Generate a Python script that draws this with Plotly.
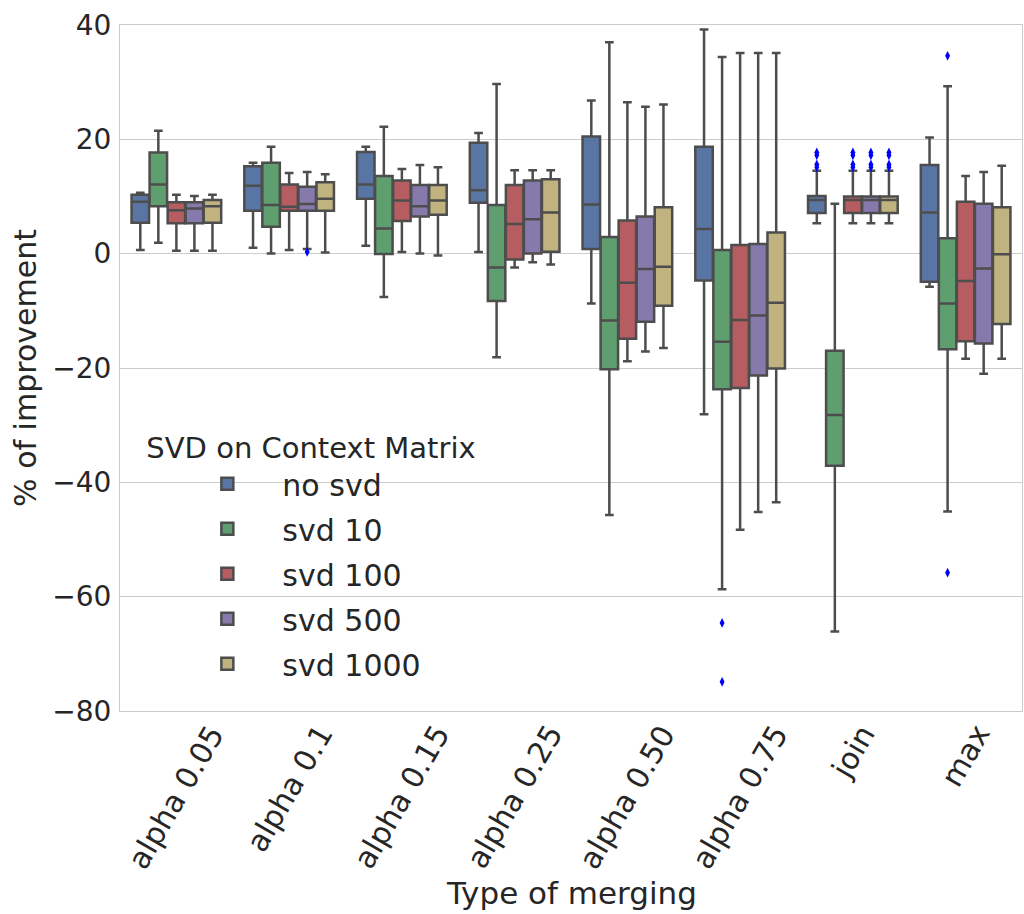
import plotly.graph_objects as go

categories = ["alpha 0.05", "alpha 0.1", "alpha 0.15", "alpha 0.25",
              "alpha 0.50", "alpha 0.75", "join", "max"]
series_names = ["no svd", "svd 10", "svd 100", "svd 500", "svd 1000"]
series_colors = ["#5975A4", "#5F9E6E", "#B55D60", "#857AAB", "#C1B37F"]

no_svd_low = [0.65, 1.05, 1.4, 0.3, -8.7, -28.1, 5.3, -5.8]
no_svd_q1 = [5.4, 7.5, 9.6, 8.9, 0.8, -4.7, 7.1, -4.9]
no_svd_med = [9.1, 11.9, 12.1, 11.1, 8.6, 4.3, 9.4, 7.2]
no_svd_q3 = [10.3, 15.3, 17.8, 19.4, 20.5, 18.7, 10.1, 15.5]
no_svd_high = [10.67, 15.9, 18.7, 21.1, 26.8, 39.2, 14.5, 20.3]

svd10_low = [1.9, 0.05, -7.6, -18.1, -45.7, -58.7, -66.1, -45.1]
svd10_q1 = [8.3, 4.7, -0.05, -8.3, -20.2, -23.7, -37.1, -16.7]
svd10_med = [12.1, 8.5, 4.4, -2.4, -11.7, -15.4, -28.2, -8.7]
svd10_q3 = [17.7, 15.9, 13.6, 8.5, 2.9, 0.65, -17.0, 2.7]
svd10_high = [21.5, 18.7, 22.2, 29.7, 37.0, 34.4, 8.75, 29.3]

svd100_low = [0.5, 0.65, 0.3, -2.4, -18.8, -48.3, 5.3, -18.4]
svd100_q1 = [5.3, 7.5, 5.7, -1.0, -14.9, -23.5, 7.1, -15.3]
svd100_med = [7.6, 8.2, 9.3, 5.2, -5.1, -11.6, 9.4, -4.8]
svd100_q3 = [9.0, 12.1, 12.8, 12.0, 5.8, 1.5, 10.0, 9.1]
svd100_high = [10.3, 14.1, 14.8, 14.6, 26.5, 35.1, 14.5, 13.6]

svd500_low = [0.5, 0.8, 0.05, -1.5, -17.1, -45.2, 5.3, -21.0]
svd500_q1 = [5.3, 7.5, 6.5, 0.05, -11.9, -21.3, 7.1, -15.7]
svd500_med = [7.9, 8.7, 8.3, 6.0, -2.7, -10.8, 9.4, -2.6]
svd500_q3 = [9.0, 11.7, 12.0, 12.8, 6.5, 1.7, 10.0, 8.75]
svd500_high = [10.1, 14.3, 15.5, 14.6, 25.7, 35.1, 14.5, 14.3]

svd1000_low = [0.5, 0.2, -0.3, -1.9, -16.5, -43.5, 5.3, -18.4]
svd1000_q1 = [5.4, 7.5, 6.8, 0.35, -9.1, -20.1, 7.1, -12.3]
svd1000_med = [8.3, 9.6, 9.3, 7.2, -2.3, -8.6, 9.4, -0.1]
svd1000_q3 = [9.4, 12.5, 12.0, 13.0, 8.1, 3.7, 10.0, 8.1]
svd1000_high = [10.3, 13.9, 15.1, 14.6, 26.1, 35.1, 14.5, 15.4]

# outliers: category index, series index, value
outlier_cat = [1, 5, 5, 6, 6, 6, 6, 6, 6, 6, 6, 6, 6, 6, 6, 6, 6, 6, 6, 7, 7]
outlier_series = [3, 1, 1, 0, 0, 0, 0, 2, 2, 2, 2, 3, 3, 3, 3, 4, 4, 4, 4, 1, 1]
outlier_val = [0.3, -64.6, -74.9,
               17.7, 17.2, 15.6, 15.1,
               17.7, 17.2, 15.6, 15.1,
               17.7, 17.2, 15.6, 15.1,
               17.7, 17.2, 15.6, 15.1,
               34.6, -55.8]

stats = [
    (no_svd_low, no_svd_q1, no_svd_med, no_svd_q3, no_svd_high),
    (svd10_low, svd10_q1, svd10_med, svd10_q3, svd10_high),
    (svd100_low, svd100_q1, svd100_med, svd100_q3, svd100_high),
    (svd500_low, svd500_q1, svd500_med, svd500_q3, svd500_high),
    (svd1000_low, svd1000_q1, svd1000_med, svd1000_q3, svd1000_high),
]

n_series = len(series_names)
group_width = 0.8
slot = group_width / n_series


def pos(ci, si):
    return ci + (si - (n_series - 1) / 2) * slot


TEXT = "#262626"
LINE = "#4d4d4d"
FONT = "DejaVu Sans"

fig = go.Figure()
for si, name in enumerate(series_names):
    low, q1, med, q3, high = stats[si]
    fig.add_trace(go.Box(
        x=[pos(ci, si) for ci in range(len(categories))],
        lowerfence=low, q1=q1, median=med, q3=q3, upperfence=high,
        name=name, legendgroup=name,
        width=slot * 0.97, whiskerwidth=0.5,
        fillcolor=series_colors[si],
        line=dict(color=LINE, width=2.5),
        boxpoints=False, hoverinfo="skip",
    ))

fig.add_trace(go.Scatter(
    x=[pos(c, s) for c, s in zip(outlier_cat, outlier_series)],
    y=outlier_val, mode="markers", showlegend=False, hoverinfo="skip",
    marker=dict(symbol="diamond-tall", size=7, color="#0000ff",
                line=dict(width=0)),
))

annotations = []
for ci, cat in enumerate(categories):
    annotations.append(dict(
        x=ci, xref="x", y=0, yref="paper", yshift=-5,
        text=cat, showarrow=False, textangle=-60,
        xanchor="center", yanchor="top",
        font=dict(family=FONT, size=30, color=TEXT),
    ))
annotations.append(dict(
    x=0.5, xref="paper", y=0, yref="paper", yshift=-182,
    text="Type of merging", showarrow=False,
    xanchor="center", yanchor="middle",
    font=dict(family=FONT, size=31, color=TEXT),
))

fig.update_layout(
    width=1024, height=914,
    margin=dict(l=120, r=2, t=25, b=203),
    paper_bgcolor="white", plot_bgcolor="white",
    font=dict(family=FONT, size=28, color=TEXT),
    boxmode="overlay",
    showlegend=True,
    legend=dict(
        x=0.027, y=0.424, xanchor="left", yanchor="top",
        bgcolor="rgba(0,0,0,0)",
        title=dict(text="SVD on Context Matrix", font=dict(size=29, color=TEXT)),
        font=dict(size=30, color=TEXT),
        tracegroupgap=3, indentation=28, itemwidth=100,
    ),
    annotations=annotations,
    xaxis=dict(
        range=[-0.5, len(categories) - 0.5],
        showgrid=False, zeroline=False, showticklabels=False,
        showline=True, linecolor="#cccccc", linewidth=1, mirror=True,
        ticks="",
    ),
    yaxis=dict(
        range=[-80, 40], dtick=20, tick0=0,
        showgrid=True, gridcolor="#cccccc", gridwidth=1,
        zeroline=False,
        showline=True, linecolor="#cccccc", linewidth=1, mirror=True,
        ticks="outside", ticklen=2, tickcolor="rgba(0,0,0,0)",
        tickfont=dict(size=28, color=TEXT),
        title=dict(text="% of improvement", standoff=6,
                   font=dict(size=30, color=TEXT)),
    ),
)

fig.write_html("out.html")
